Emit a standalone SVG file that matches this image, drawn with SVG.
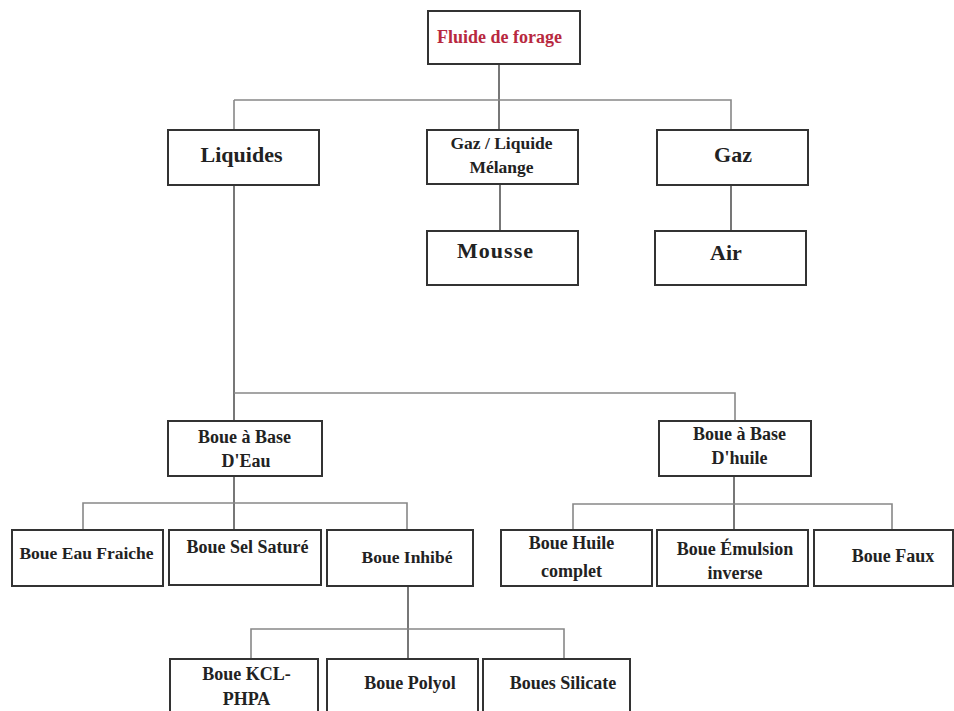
<svg xmlns="http://www.w3.org/2000/svg" width="954" height="711" viewBox="0 0 954 711">
<style>
.box{fill:#fff;stroke:#333;stroke-width:2}
.t{font-family:"Liberation Serif","Times New Roman",serif;font-weight:bold;fill:#222;text-anchor:middle}
.s22{font-size:22px}.s18{font-size:18px}.s175{font-size:17.5px}
.red{fill:#b8293f}
.ln{fill:none;stroke:#555;stroke-width:1.6}
.lg{fill:none;stroke:#888;stroke-width:1.6}
</style>
<rect width="954" height="711" fill="#fff"/>
<g id="connectors">
<path class="ln" d="M499 64V130"/>
<path class="lg" d="M234 100H731V130M234 100V130"/>
<path class="ln" d="M500 185V231M731 185V231"/>
<path class="ln" d="M234 185V530"/>
<path class="lg" d="M234 393H735V421"/>
<path class="lg" d="M83 530V503H407V530"/>
<path class="ln" d="M734 476V530"/>
<path class="lg" d="M573 530V504H892V530"/>
<path class="ln" d="M408 586V659"/>
<path class="lg" d="M251 659V629H564V659"/>
</g>
<g id="fluide"><rect class="box" x="428" y="11" width="152" height="53"/><text class="t red s18" x="499.5" y="43">Fluide de forage</text></g>
<g id="liquides"><rect class="box" x="168" y="130" width="151" height="55"/><text class="t s22" x="241.5" y="162">Liquides</text></g>
<g id="gazliquide"><rect class="box" x="427" y="130" width="151" height="54"/><text class="t s175" x="501.5" y="149">Gaz / Liquide</text><text class="t s175" x="501.5" y="173">Mélange</text></g>
<g id="gaz"><rect class="box" x="657" y="130" width="151" height="55"/><text class="t s22" x="733" y="162">Gaz</text></g>
<g id="mousse"><rect class="box" x="427" y="231" width="151" height="54"/><text class="t s22" x="495" y="258" textLength="76" lengthAdjust="spacing">Mousse</text></g>
<g id="air"><rect class="box" x="655" y="231" width="151" height="54"/><text class="t s22" x="726" y="260">Air</text></g>
<g id="baseeau"><rect class="box" x="168" y="421" width="154" height="55"/><text class="t s18" x="244.5" y="443">Boue à Base</text><text class="t s18" x="246" y="467">D'Eau</text></g>
<g id="basehuile"><rect class="box" x="659" y="421" width="152" height="55"/><text class="t s18" x="739.5" y="440">Boue à Base</text><text class="t s18" x="739.5" y="464">D'huile</text></g>
<g id="eaufraiche"><rect class="box" x="12" y="530" width="151" height="56"/><text class="t s175" x="86.5" y="559">Boue Eau Fraiche</text></g>
<g id="selsature"><rect class="box" x="169" y="530" width="152" height="55"/><text class="t s18" x="247.5" y="553">Boue Sel Saturé</text></g>
<g id="inhibe"><rect class="box" x="327" y="530" width="146" height="56"/><text class="t s175" x="407" y="563">Boue Inhibé</text></g>
<g id="huilecomplet"><rect class="box" x="501" y="530" width="151" height="56"/><text class="t s18" x="571.5" y="549">Boue Huile</text><text class="t s18" x="571.5" y="577">complet</text></g>
<g id="emulsion"><rect class="box" x="657" y="530" width="151" height="56"/><text class="t s18" x="735" y="555">Boue Émulsion</text><text class="t s18" x="735" y="579">inverse</text></g>
<g id="faux"><rect class="box" x="814" y="530" width="139" height="56"/><text class="t s18" x="893" y="562">Boue Faux</text></g>
<g id="kcl"><rect class="box" x="170" y="659" width="148" height="62"/><text class="t s18" x="246.5" y="680">Boue KCL-</text><text class="t s18" x="246.5" y="705">PHPA</text></g>
<g id="polyol"><rect class="box" x="327" y="659" width="151" height="62"/><text class="t s18" x="410" y="689">Boue Polyol</text></g>
<g id="silicate"><rect class="box" x="483" y="659" width="147" height="62"/><text class="t s18" x="563" y="689">Boues Silicate</text></g>
</svg>
